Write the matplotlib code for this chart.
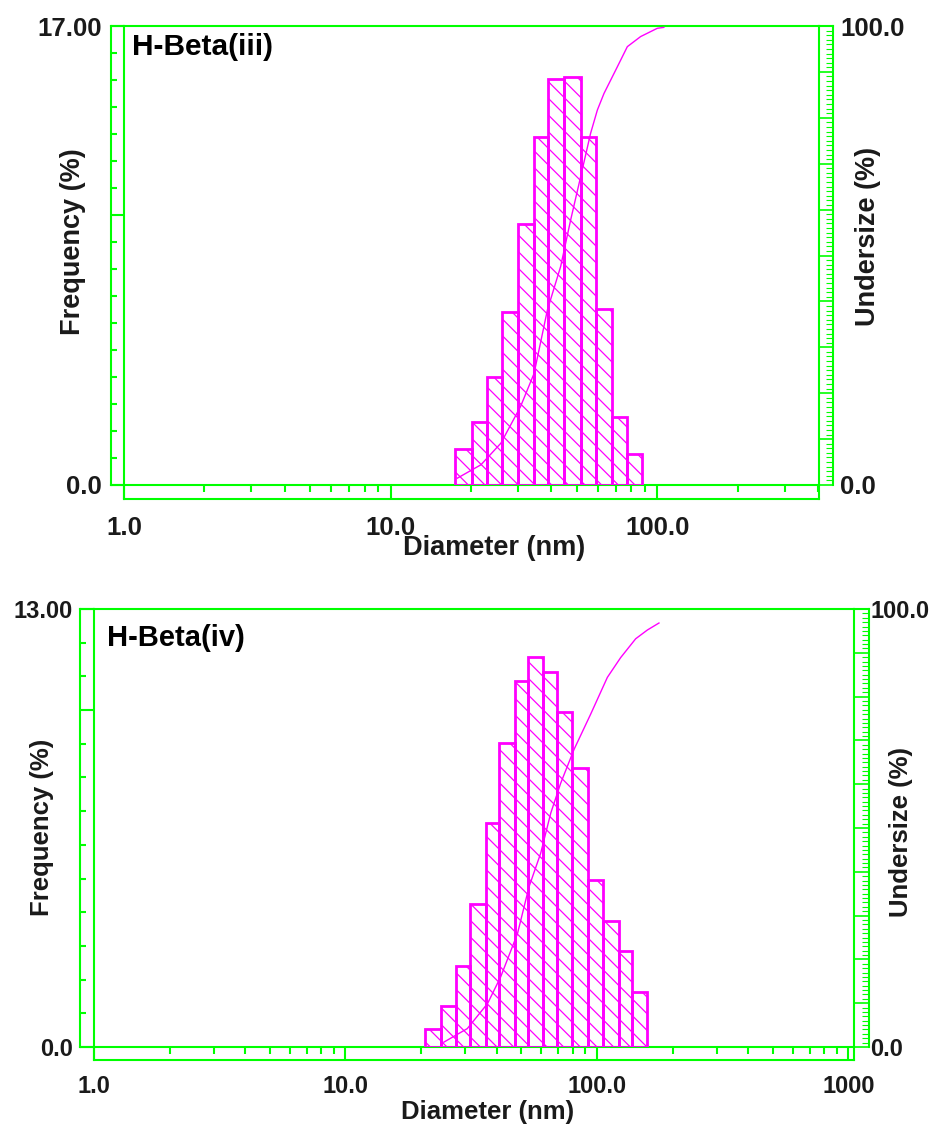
import numpy as np
import matplotlib
matplotlib.use("Agg")
import matplotlib.pyplot as plt
from matplotlib.ticker import (FixedLocator, FixedFormatter, NullFormatter,
                               LogLocator, MultipleLocator, FuncFormatter)

plt.rcParams['font.family'] = ['Liberation Sans', 'DejaVu Sans']
plt.rcParams['font.weight'] = 'bold'
plt.rcParams['hatch.linewidth'] = 0.9

GREEN = '#00FF00'
MAGENTA = '#FF00FF'
TEXT = '#1a1a1a'

# H-Beta(iii): bin edges (nm), frequency (%), undersize curve
edges_iii = [17.5, 20.1, 22.9, 26.2, 30.0, 34.4, 39.0, 44.7, 51.6, 58.7, 67.8, 77.2, 87.8]
freq_iii = [1.32, 2.32, 3.99, 6.42, 9.66, 12.88, 15.03, 15.12, 12.88, 6.52, 2.53, 1.14]
cum_d_iii = [17.8, 21.8, 25.9, 30.7, 34.5, 38.7, 43.4, 47.3, 51.6, 56.2, 59.6, 63.1,
             70.8, 77.2, 86.6, 100.0, 105.8]
cum_v_iii = [1.5, 4.4, 9.1, 17.1, 24.3, 38.1, 47.6, 57.7, 67.2, 76.6, 81.7, 85.3,
             91.1, 95.5, 97.7, 99.5, 99.7]

# H-Beta(iv)
edges_iv = [20.65, 23.9, 27.4, 31.3, 36.1, 40.7, 47.1, 53.4, 61.2, 69.6, 79.8, 92.1,
            106.0, 122.4, 138.3, 157.6]
freq_iv = [0.52, 1.22, 2.40, 4.23, 6.64, 9.03, 10.87, 11.57, 11.14, 9.93, 8.27, 4.97,
           3.74, 2.85, 1.63]
cum_d_iv = [24.6, 30.5, 36.7, 41.4, 48.3, 53.7, 59.7, 65.5, 71.7, 81.0, 94.4, 110.0,
            124.2, 142.5, 158.6, 176.4]
cum_v_iv = [1.1, 4.2, 9.9, 16.0, 25.9, 36.6, 44.2, 53.4, 60.2, 67.9, 76.0, 84.4,
            88.9, 93.2, 95.2, 96.8]

W, H = 938, 1133
fig = plt.figure(figsize=(W / 100, H / 100), dpi=100)


def fx(x):
    return x / W


def fy(y):
    return 1 - y / H


def panel(box, gaps, edges, freq, cum_d, cum_v, ymax, xmax, xticks, xlabels,
          fs_tick, pads):
    left, top, right, bottom = box
    lo, bo, ro = gaps
    wpx, hpx = right - left, bottom - top
    ax = fig.add_axes([fx(left), fy(bottom), wpx / W, hpx / H])
    ax.set_xscale('log')

    # bars
    ax.bar(edges[:-1], freq, width=np.diff(edges), align='edge', fill=False,
           hatch='\\\\', edgecolor=MAGENTA, linewidth=2.0, zorder=3)

    # frame decoration (offset ladder style)
    dl, db, dr = lo / wpx, bo / hpx, ro / wpx
    segs = [((0, 0), (-db, 1)), ((0, 1), (-db, -db)), ((1, 1), (-db, 0)),
            ((-dl, 0), (0, 0)), ((-dl, 0), (1, 1)), ((1, 1 + dr), (1, 1))]
    for xs, ys in segs:
        ax.plot(xs, ys, transform=ax.transAxes, clip_on=False, color=GREEN,
                lw=1.5, solid_capstyle='projecting')

    ax.set_xlim(1, xmax)
    ax.set_ylim(0, ymax)

    for s in ax.spines.values():
        s.set_color(GREEN)
        s.set_linewidth(1.5)
    ax.spines['left'].set_position(('outward', lo * 0.72))

    ax.xaxis.set_major_locator(FixedLocator(xticks))
    ax.xaxis.set_major_formatter(FixedFormatter(xlabels))
    ax.xaxis.set_minor_locator(LogLocator(base=10, subs=np.arange(2, 10)))
    ax.xaxis.set_minor_formatter(NullFormatter())
    ax.tick_params(axis='x', which='major', direction='out', length=bo * 0.72,
                   width=1.5, color=GREEN, labelsize=fs_tick, labelcolor=TEXT,
                   pad=pads[0])
    ax.tick_params(axis='x', which='minor', direction='out', length=bo * 0.36,
                   width=1.5, color=GREEN)

    ax.yaxis.set_major_locator(FixedLocator([0, 10, ymax]))
    ax.yaxis.set_major_formatter(FixedFormatter(['0.0', '', f'{ymax:.2f}']))
    ax.yaxis.set_minor_locator(MultipleLocator(1))
    ax.tick_params(axis='y', which='major', direction='in', length=lo * 0.72,
                   width=1.5, color=GREEN, labelsize=fs_tick, labelcolor=TEXT,
                   pad=pads[1])
    ax.tick_params(axis='y', which='minor', direction='in', length=4,
                   width=1.5, color=GREEN)

    ax2 = ax.twinx()
    ax2.plot(cum_d, cum_v, color=MAGENTA, lw=1.0)
    ax2.set_ylim(0, 100)
    for k in ['top', 'bottom', 'left']:
        ax2.spines[k].set_visible(False)
    ax2.spines['right'].set_color(GREEN)
    ax2.spines['right'].set_linewidth(1.5)
    ax2.spines['right'].set_position(('outward', ro * 0.72))
    ax2.yaxis.set_major_locator(MultipleLocator(10))
    ax2.yaxis.set_major_formatter(
        FuncFormatter(lambda v, p: f'{v:.1f}' if v in (0, 100) else ''))
    ax2.yaxis.set_minor_locator(MultipleLocator(1))
    ax2.tick_params(axis='y', which='major', direction='in', length=ro * 0.72,
                    width=1.2, color=GREEN, labelsize=fs_tick, labelcolor=TEXT,
                    pad=pads[2])
    ax2.tick_params(axis='y', which='minor', direction='in', length=5,
                    width=0.8, color=GREEN)
    ax2.set_xlim(1, xmax)
    return ax


panel((124, 26, 819, 485), (13, 14, 14), edges_iii, freq_iii, cum_d_iii, cum_v_iii,
      17, 404, [1, 10, 100], ['1.0', '10.0', '100.0'], 18.5, (12.5, 6.5, 5))
fig.text(fx(132), fy(47), 'H-Beta(iii)', fontsize=21.5, color='black',
         ha='left', va='center')
fig.text(fx(494), fy(548), 'Diameter (nm)', fontsize=19.5, color=TEXT,
         ha='center', va='center')
fig.text(fx(73), fy(242), 'Frequency (%)', fontsize=19.5, color=TEXT,
         ha='center', va='center', rotation=90)
fig.text(fx(868), fy(236), 'Undersize (%)', fontsize=19.5, color=TEXT,
         ha='center', va='center', rotation=90)

panel((94, 609, 854, 1047), (14, 13, 15), edges_iv, freq_iv, cum_d_iv, cum_v_iv,
      13, 1052, [1, 10, 100, 1000], ['1.0', '10.0', '100.0', '1000'], 17,
      (10.5, 5, 1))
fig.text(fx(107), fy(638), 'H-Beta(iv)', fontsize=21, color='black',
         ha='left', va='center')
fig.text(fx(488), fy(1112), 'Diameter (nm)', fontsize=18.5, color=TEXT,
         ha='center', va='center')
fig.text(fx(42.5), fy(827), 'Frequency (%)', fontsize=18.5, color=TEXT,
         ha='center', va='center', rotation=90)
fig.text(fx(901), fy(832), 'Undersize (%)', fontsize=18.5, color=TEXT,
         ha='center', va='center', rotation=90)

fig.savefig('out.png', dpi=100, facecolor='white')
